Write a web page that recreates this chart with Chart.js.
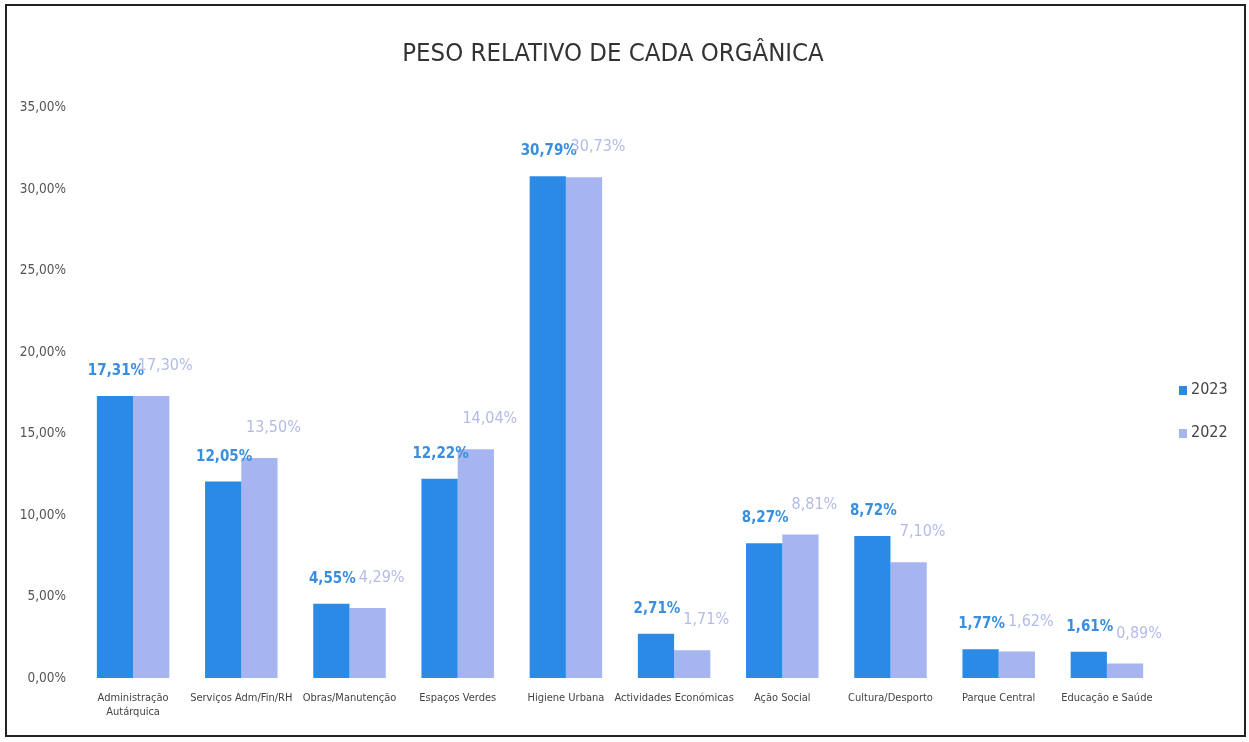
<!DOCTYPE html>
<html>
<head>
<meta charset="utf-8">
<script src="https://cdn.jsdelivr.net/npm/chart.js@4.4.1/dist/chart.umd.min.js"></script>
<style>
  html, body { margin: 0; padding: 0; background: #fff; }
  #frame {
    position: absolute; left: 5px; top: 4px; width: 1241px; height: 733px;
    border: 2px solid #222; box-sizing: border-box;
  }
  #wrap { position: absolute; left: 0; top: 0; width: 1237px; height: 729px; }
</style>
</head>
<body>
<div id="frame"><div id="wrap"><canvas id="chart"></canvas></div></div>
<script>
const FONT = "'Liberation Sans Narrow', 'DejaVu Sans Condensed', 'Open Sans', sans-serif";

const CATEGORIES = [
  ["Administração", "Autárquica"],
  "Serviços Adm/Fin/RH",
  "Obras/Manutenção",
  "Espaços Verdes",
  "Higiene Urbana",
  "Actividades Económicas",
  "Ação Social",
  "Cultura/Desporto",
  "Parque Central",
  "Educação e Saúde"
];
const VALUES_2023 = [17.31, 12.05, 4.55, 12.22, 30.79, 2.71, 8.27, 8.72, 1.77, 1.61];
const VALUES_2022 = [17.30, 13.50, 4.29, 14.04, 30.73, 1.71, 8.81, 7.10, 1.62, 0.89];

const BLUE = "#2b8ae6";
const LAVENDER = "#a6b5ef";

function pct(v){
  return v.toFixed(2).replace(".", ",") + "%";
}

// value labels above bars, Excel style
const barLabels = {
  id: "barLabels",
  afterDatasetsDraw(chart){
    const ctx = chart.ctx;
    ctx.save();
    ctx.textAlign = "center";
    ctx.textBaseline = "middle";
    chart.data.datasets.forEach((ds, i) => {
      const meta = chart.getDatasetMeta(i);
      meta.data.forEach((bar, j) => {
        const txt = pct(ds.data[j]);
        if (i === 0) {
          ctx.font = "bold 15px " + FONT;
          ctx.fillStyle = "#3a8ee0";
          ctx.fillText(txt, bar.x + 1, bar.y - 25);
        } else {
          ctx.font = "16px " + FONT;
          ctx.fillStyle = "#b3bbe8";
          ctx.fillText(txt, bar.x + 14, bar.y - 30);
        }
      });
    });
    ctx.restore();
  }
};

// legend on the right, drawn next to the plot
const sideLegend = {
  id: "sideLegend",
  afterDraw(chart){
    const ctx = chart.ctx;
    const area = chart.chartArea;
    ctx.save();
    ctx.font = "16px " + FONT;
    ctx.textBaseline = "middle";
    chart.data.datasets.forEach((ds, i) => {
      const y = 384 + i * 43;
      ctx.fillStyle = ds.backgroundColor;
      ctx.fillRect(area.right + 18, y - 4, 8, 9);
      ctx.fillStyle = "#444";
      ctx.fillText(ds.label, area.right + 30, y);
    });
    ctx.restore();
  }
};

new Chart(document.getElementById("chart"), {
  type: "bar",
  data: {
    labels: CATEGORIES,
    datasets: [
      { label: "2023", data: VALUES_2023, backgroundColor: BLUE },
      { label: "2022", data: VALUES_2022, backgroundColor: LAVENDER }
    ]
  },
  options: {
    responsive: true,
    maintainAspectRatio: false,
    animation: false,
    datasets: { bar: { categoryPercentage: 0.67, barPercentage: 1.0 } },
    layout: { padding: { left: 0, right: 25, top: 0, bottom: 0 } },
    plugins: {
      legend: { display: false },
      tooltip: { enabled: false },
      title: {
        display: true,
        text: "PESO RELATIVO DE CADA ORGÂNICA",
        color: "#333",
        font: { family: FONT, size: 25.5, weight: "normal" },
        padding: { top: 33, bottom: 38 }
      }
    },
    scales: {
      x: {
        grid: { display: false },
        border: { display: false },
        ticks: { color: "#444", font: { family: FONT, size: 11 }, maxRotation: 0, autoSkip: false, padding: 6 },
        afterFit(scale){ scale.height = 57; }
      },
      y: {
        min: 0,
        max: 35,
        grid: { display: false },
        border: { display: false },
        ticks: { stepSize: 5, color: "#555", font: { family: FONT, size: 13.5 }, padding: 5, callback: v => pct(v) },
        afterFit(scale){ scale.width = 72; }
      },
      // empty axis that only keeps room for the legend
      side: {
        type: "linear",
        position: "right",
        display: true,
        grid: { display: false },
        border: { display: false },
        ticks: { display: false },
        afterFit(scale){ scale.width = 58; }
      }
    }
  },
  plugins: [barLabels, sideLegend]
});
</script>
</body>
</html>
